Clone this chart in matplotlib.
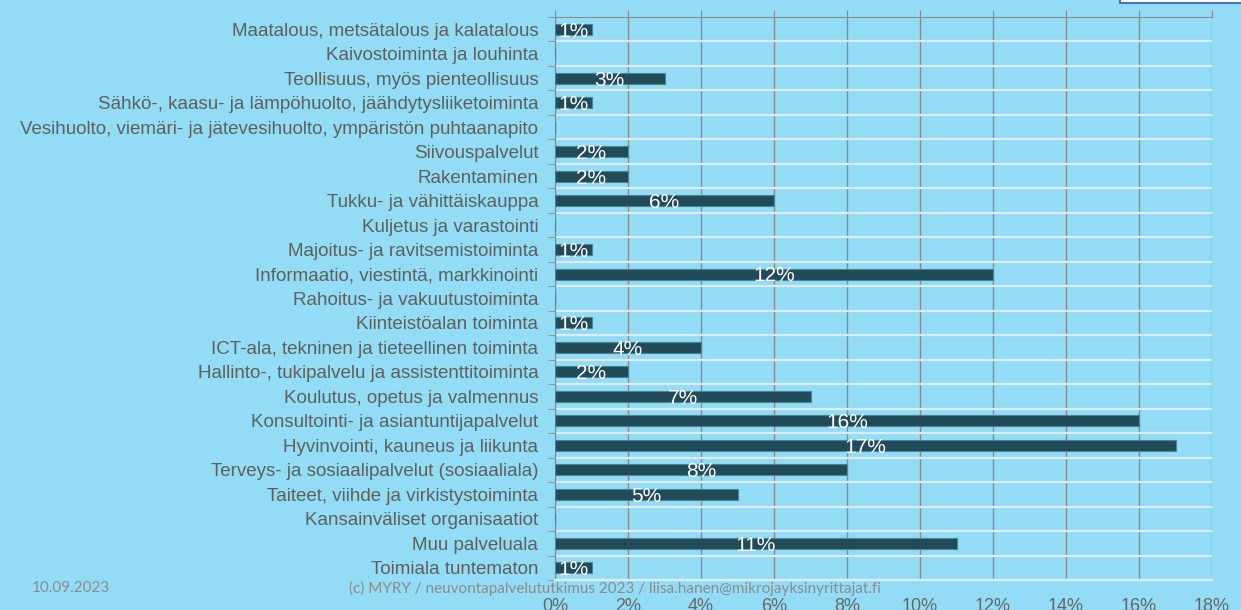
import matplotlib
matplotlib.use("Agg")
import matplotlib.pyplot as plt
import matplotlib.patches as mpatches
import numpy as np

# data, top to bottom as in the chart
categories = [
    "Maatalous, metsätalous ja kalatalous",
    "Kaivostoiminta ja louhinta",
    "Teollisuus, myös pienteollisuus",
    "Sähkö-, kaasu- ja lämpöhuolto, jäähdytysliiketoiminta",
    "Vesihuolto, viemäri- ja jätevesihuolto, ympäristön puhtaanapito",
    "Siivouspalvelut",
    "Rakentaminen",
    "Tukku- ja vähittäiskauppa",
    "Kuljetus ja varastointi",
    "Majoitus- ja ravitsemistoiminta",
    "Informaatio, viestintä, markkinointi",
    "Rahoitus- ja vakuutustoiminta",
    "Kiinteistöalan toiminta",
    "ICT-ala, tekninen ja tieteellinen toiminta",
    "Hallinto-, tukipalvelu ja assistenttitoiminta",
    "Koulutus, opetus ja valmennus",
    "Konsultointi- ja asiantuntijapalvelut",
    "Hyvinvointi, kauneus ja liikunta",
    "Terveys- ja sosiaalipalvelut (sosiaaliala)",
    "Taiteet, viihde ja virkistystoiminta",
    "Kansainväliset organisaatiot",
    "Muu palveluala",
    "Toimiala tuntematon",
]
values = [1, 0, 3, 1, 0, 2, 2, 6, 0, 1, 12, 0, 1, 4, 2, 7, 16, 17, 8, 5, 0, 11, 1]
x_ticks = [0, 2, 4, 6, 8, 10, 12, 14, 16, 18]

bg = "#93dcf6"
bar_color = "#214b59"
grey = "#8a8a8a"
label_grey = "#5f5f5f"

plt.rcParams["font.family"] = ["Liberation Sans", "DejaVu Sans"]

fig = plt.figure(figsize=(12.41, 6.10), dpi=100, facecolor=bg)
ax = fig.add_axes([555 / 1241, 1 - 580 / 610, (1212 - 555) / 1241, (580 - 17) / 610])
ax.set_facecolor(bg)

y = np.arange(len(categories))
ax.barh(y, values, height=0.45, color=bar_color, edgecolor="#4d8396", linewidth=0.8, zorder=3)

for yi, v in zip(y, values):
    if v > 0:
        ax.text(v / 2, yi + 0.08, f"{v}%", color="white", fontsize=15,
                ha="center", va="center", zorder=4)

ax.set_xlim(0, 18)
ax.set_ylim(len(categories) - 0.5, -0.5)

ax.set_xticks(x_ticks)
ax.set_xticklabels([f"{t}%" for t in x_ticks], fontsize=13, color="#666666")
ax.tick_params(axis="x", which="major", bottom=False, top=True, length=5,
               color=grey, pad=8, labelbottom=True, labeltop=False)
ax.grid(axis="x", which="major", color=grey, linewidth=1, zorder=1)

ax.set_yticks(y)
ax.set_yticklabels(categories, fontsize=13.5, color=label_grey)
ax.set_yticks(np.arange(-0.5, len(categories), 1), minor=True)
ax.tick_params(axis="y", which="major", length=0, pad=12)
ax.tick_params(axis="y", which="minor", length=5, color=grey, left=True)
ax.grid(axis="y", which="minor", color="#dcecf2", linewidth=1.6, zorder=2)

ax.spines["right"].set_visible(False)
ax.spines["left"].set_color(grey)
ax.spines["top"].set_color(grey)
ax.spines["bottom"].set_color("#dcecf2")
ax.spines["bottom"].set_linewidth(1.6)

# footer
fig.text(32 / 1241, 1 - 588 / 610, "10.09.2023", fontsize=11, color="#8c8c8c",
         family=["Lato", "DejaVu Sans"], ha="left", va="center")
fig.text(615 / 1241, 1 - 588 / 610,
         "(c) MYRY / neuvontapalvelututkimus 2023 / liisa.hanen@mikrojayksinyrittajat.fi",
         fontsize=11, color="#8c8c8c", family=["Lato", "DejaVu Sans"],
         ha="center", va="center")

# cut-off box in the top right corner
fig.patches.append(mpatches.Rectangle((1120 / 1241, 1 - 3 / 610), 0.2, 0.05,
                                      transform=fig.transFigure, facecolor="white",
                                      edgecolor="#4472c4", linewidth=1.5))

fig.savefig("out.png", dpi=100, facecolor=bg)
